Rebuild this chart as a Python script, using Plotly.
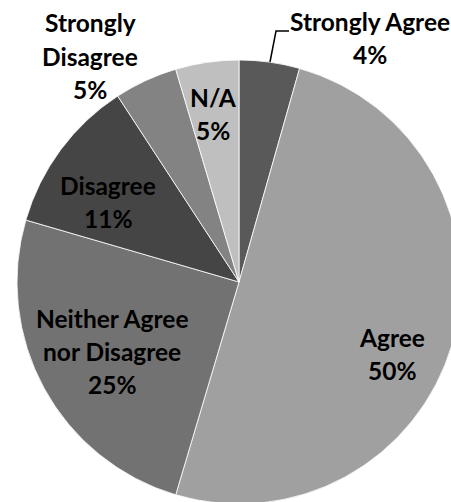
import plotly.graph_objects as go

labels = ["Strongly Agree", "Agree", "Neither Agree nor Disagree", "Disagree", "Strongly Disagree", "N/A"]
values = [4.4, 50.2, 24.9, 11.3, 4.6, 4.6]
colors = ["#595959", "#a0a0a0", "#727272", "#454545", "#838383", "#bfbfbf"]

# label lines as shown on the chart
label_lines = [
    ["Strongly Agree", "4%"],
    ["Agree", "50%"],
    ["Neither Agree", "nor Disagree", "25%"],
    ["Disagree", "11%"],
    ["Strongly", "Disagree", "5%"],
    ["N/A", "5%"],
]
# label anchor (center x, first line y) in pixels from top-left
label_pos = [(370, 22), (392, 337), (112, 318), (108, 185), (90, 23), (213, 97)]
LINE = 33

W, H = 480, 520
cx, cy, r = 239, 282, 222

fig = go.Figure(go.Pie(
    labels=labels,
    values=values,
    sort=False,
    direction="clockwise",
    rotation=0,
    marker=dict(colors=colors, line=dict(color="#ffffff", width=0.8)),
    textinfo="none",
    hoverinfo="label+percent",
    showlegend=False,
    domain=dict(x=[(cx - r) / W, (cx + r) / W], y=[(H - cy - r) / H, (H - cy + r) / H]),
))

anns = []
for lines, (x, y) in zip(label_lines, label_pos):
    for i, t in enumerate(lines):
        anns.append(dict(
            x=x / W, y=1 - (y + i * LINE) / H, xref="paper", yref="paper",
            text=t, showarrow=False, xanchor="center", yanchor="middle",
            font=dict(family="Lato", size=24.5, color="#000000", weight="bold"),
        ))

shapes = [dict(type="path", xref="paper", yref="paper",
               path=f"M {270/W},{1-62/H} L {276/W},{1-31/H} L {289/W},{1-31/H}",
               line=dict(color="#000000", width=1.5))]

fig.update_layout(
    width=W, height=H,
    margin=dict(l=0, r=0, t=0, b=0),
    paper_bgcolor="#ffffff",
    annotations=anns,
    shapes=shapes,
)

fig.write_html("out.html", post_script="document.body.style.margin='0';document.body.style.overflow='hidden';document.documentElement.style.overflow='hidden';")
